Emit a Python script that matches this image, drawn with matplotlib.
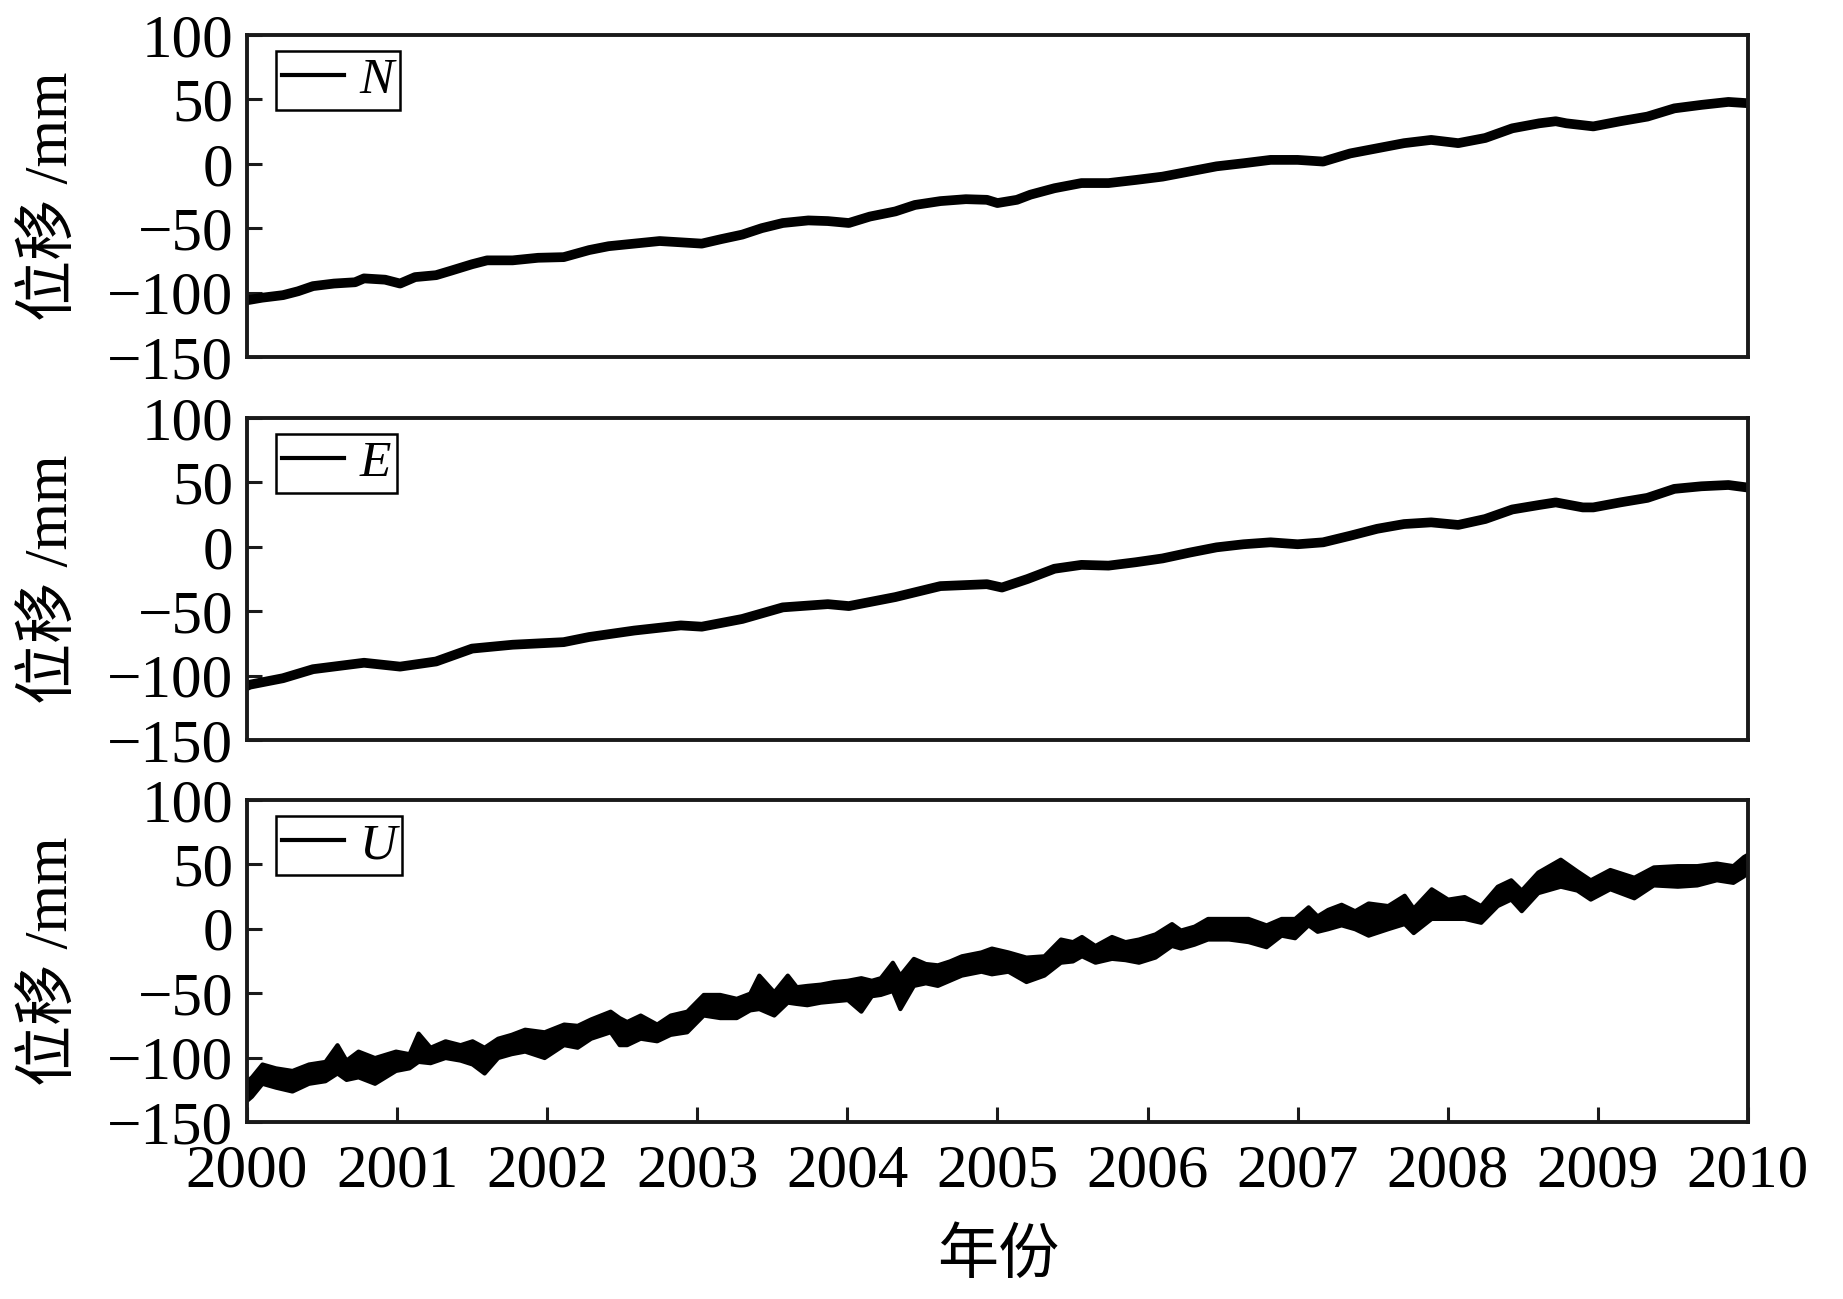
import matplotlib
matplotlib.use("Agg")
import matplotlib.pyplot as plt

plt.rcParams['font.family'] = ['Liberation Serif', 'Noto Sans CJK SC']
plt.rcParams['axes.unicode_minus'] = True

# N component (mm)
n_year = [2000.0, 2000.1, 2000.24, 2000.34, 2000.44, 2000.58, 2000.72, 2000.78, 2000.92, 2001.02,
          2001.12, 2001.26, 2001.36, 2001.5, 2001.6, 2001.77, 2001.94, 2002.11, 2002.28, 2002.41,
          2002.58, 2002.75, 2002.89, 2003.03, 2003.16, 2003.3, 2003.43, 2003.57, 2003.74, 2003.87,
          2004.01, 2004.15, 2004.32, 2004.45, 2004.62, 2004.79, 2004.93, 2005.0, 2005.13, 2005.22,
          2005.38, 2005.56, 2005.74, 2005.92, 2006.1, 2006.28, 2006.46, 2006.64, 2006.82, 2007.0,
          2007.17, 2007.35, 2007.53, 2007.71, 2007.89, 2008.07, 2008.25, 2008.43, 2008.61, 2008.72,
          2008.79, 2008.97, 2009.15, 2009.33, 2009.51, 2009.69, 2009.87, 2010.0]
n_vals = [-106, -104, -102, -99, -95, -93, -92, -89, -90, -93,
          -88, -86.5, -83, -78, -75, -75, -73, -72.5, -67, -64,
          -62, -60, -61, -62, -58.5, -55, -50, -46, -44, -44.5,
          -46, -41, -37, -32, -29, -27.5, -28, -30.5, -28, -24,
          -19, -15, -15, -12.6, -10, -6, -2, 0.4, 3, 3,
          1.7, 8, 12, 16, 18.5, 16, 20, 27.5, 31.4, 33,
          31.4, 29, 33, 36.6, 43, 45.7, 48, 47]

# E component (mm)
e_year = [2000.0, 2000.02, 2000.24, 2000.44, 2000.78, 2001.02, 2001.26, 2001.5, 2001.77, 2002.11,
          2002.28, 2002.58, 2002.89, 2003.03, 2003.3, 2003.57, 2003.87, 2004.01, 2004.32, 2004.62,
          2004.93, 2005.03, 2005.2, 2005.38, 2005.56, 2005.74, 2005.92, 2006.1, 2006.28, 2006.46,
          2006.64, 2006.82, 2007.0, 2007.17, 2007.35, 2007.53, 2007.71, 2007.89, 2008.07, 2008.25,
          2008.43, 2008.61, 2008.72, 2008.9, 2008.97, 2009.15, 2009.33, 2009.51, 2009.69, 2009.87,
          2010.0]
e_vals = [-108, -107, -102, -95, -90, -93, -89, -79, -76, -74,
          -70, -65, -61, -62, -56, -47, -44.5, -46, -39, -30.5,
          -29, -31.6, -25, -17, -14, -14.6, -12, -9, -4.5, -0.4,
          2, 3.5, 2, 3.5, 8.6, 14, 17.7, 19, 17, 21.6,
          29, 32.5, 34.5, 30.6, 30.6, 34.5, 38, 45, 47, 48,
          46]

# U component (mm): upper and lower edge of the noisy trace
u_year = [2000.0, 2000.03, 2000.1, 2000.19, 2000.3, 2000.41, 2000.52, 2000.6, 2000.66, 2000.74,
          2000.85, 2000.99, 2001.08, 2001.14, 2001.22, 2001.32, 2001.42, 2001.5, 2001.58, 2001.67,
          2001.76, 2001.85, 2001.98, 2002.11, 2002.2, 2002.29, 2002.42, 2002.48, 2002.53, 2002.62,
          2002.73, 2002.82, 2002.93, 2003.04, 2003.15, 2003.26, 2003.35, 2003.41, 2003.51, 2003.6,
          2003.66, 2003.73, 2003.82, 2003.91, 2004.0, 2004.09, 2004.16, 2004.22, 2004.3, 2004.35,
          2004.44, 2004.52, 2004.6, 2004.68, 2004.76, 2004.89, 2004.96, 2005.07, 2005.19, 2005.31,
          2005.42, 2005.5, 2005.56, 2005.65, 2005.76, 2005.85, 2005.94, 2006.05, 2006.16, 2006.22,
          2006.31, 2006.4, 2006.54, 2006.67, 2006.79, 2006.89, 2006.98, 2007.07, 2007.13, 2007.2,
          2007.29, 2007.38, 2007.47, 2007.6, 2007.71, 2007.77, 2007.89, 2008.0, 2008.11, 2008.22,
          2008.33, 2008.42, 2008.49, 2008.6, 2008.75, 2008.86, 2008.95, 2009.08, 2009.24, 2009.37,
          2009.53, 2009.66, 2009.79, 2009.9, 2009.97, 2010.0]
u_upper = [-118, -115, -105, -108, -110, -105, -103, -90, -102, -95,
           -100, -95, -97, -81, -92, -87, -90, -87, -92, -85,
           -82, -78, -80, -74, -75, -70, -64, -69, -72, -67,
           -74, -67, -64, -51, -51, -54, -50, -36, -49, -36,
           -45, -44, -43, -41, -40, -38, -40, -38, -26, -36,
           -23, -27, -28, -25, -21, -18, -15, -18, -22, -21,
           -8, -10, -6, -13, -6, -10, -8, -4, 4, -1,
           2, 8, 8, 8, 3, 8, 8, 17, 10, 15,
           19, 14, 20, 18, 26, 16, 31, 23, 25, 18,
           33, 38, 30, 44, 54, 45, 38, 46, 40, 48,
           49, 49, 51, 49, 56, 58]
u_lower = [-133, -130, -120, -123, -126, -120, -118, -112, -117, -115,
           -120, -110, -108, -103, -104, -100, -102, -105, -112, -100,
           -97, -95, -100, -90, -92, -85, -80, -90, -90, -85,
           -87, -82, -80, -67, -69, -69, -63, -62, -67, -57,
           -58, -59, -57, -56, -55, -64, -52, -51, -48, -62,
           -44, -42, -44, -40, -36, -33, -35, -33, -41, -36,
           -26, -25, -21, -26, -23, -24, -26, -22, -13, -15,
           -12, -8, -8, -10, -14, -5, -7, 3, -2, 0,
           3, 0, -5, 0, 4, -3, 8, 8, 8, 5,
           18, 23, 14, 28, 33, 30, 23, 31, 24, 34,
           33, 34, 38, 36, 41, 44]

labels = ["N", "E", "U"]
y_ticks = [-150, -100, -50, 0, 50, 100]
x_ticks = list(range(2000, 2011))

fig = plt.figure(figsize=(18.43, 12.99), dpi=100)
left, width, height = 0.134, 0.8144, 0.2479
bottoms = [0.7252, 0.4303, 0.1363]
axes = [fig.add_axes([left, b, width, height]) for b in bottoms]

axes[0].plot(n_year, n_vals, color='black', lw=7, label=labels[0])
axes[1].plot(e_year, e_vals, color='black', lw=7, label=labels[1])
axes[2].fill_between(u_year, u_lower, u_upper, color='black', lw=3, edgecolor='black')
axes[2].plot([], [], color='black', lw=3, label=labels[2])

for i, ax in enumerate(axes):
    ax.set_xlim(2000, 2010)
    ax.set_ylim(-150, 100)
    ax.set_yticks(y_ticks)
    ax.set_xticks(x_ticks)
    for s in ax.spines.values():
        s.set_linewidth(2.8)
        s.set_color('#1a1a1a')
    ax.tick_params(direction='in', length=11, width=2.2, labelsize=44, pad=10,
                   color='#1a1a1a')
    ax.tick_params(axis='x', pad=16)
    if i < 2:
        ax.tick_params(axis='x', bottom=False, labelbottom=False)
    leg = ax.legend(loc='upper left', bbox_to_anchor=(0.0193, 0.95), borderaxespad=0,
                    handlelength=1.2, handletextpad=0.3, borderpad=0.12,
                    prop={'family': 'Liberation Serif', 'style': 'italic', 'size': 37},
                    fancybox=False, framealpha=1)
    leg.get_frame().set_edgecolor('black')
    leg.get_frame().set_linewidth(1.8)
    for h in leg.legend_handles:
        h.set_linewidth(3)
    fig.text(0.028, bottoms[i] + height / 2, '位移 /mm', rotation=90, ha='center',
             va='center', fontsize=44)

fig.text(0.5415, 1 - 1258 / 1299, '年份', ha='center', va='center', fontsize=44)

fig.savefig("out.png", dpi=100)
